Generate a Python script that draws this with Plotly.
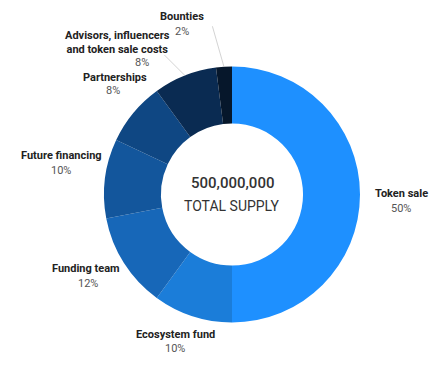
import math
import plotly.graph_objects as go

# ---- data ----
labels = ["Token sale", "Ecosystem fund", "Funding team", "Future financing",
          "Partnerships", "Advisors, influencers<br>and token sale costs", "Bounties"]
values = [50, 10, 12, 10, 8, 8, 2]
colors = ["#1E90FF", "#1B7DD9", "#1767B8", "#13569C", "#0F4783", "#0A2B52", "#06172B"]
center_line1 = "500,000,000"
center_line2 = "TOTAL SUPPLY"

# ---- layout geometry (page pixels; page body has an 8px margin) ----
OFF = 8
W, H = 447 - 2 * OFF, 365 - 2 * OFF
cx, cy, R = 232, 194.5, 128
hole = 0.555

# label anchor positions (page pixels): name block centre, percent
name_pos = [(401, 193), (175, 334), (86, 268), (61, 155), (115, 77), (117.5, 42), (182, 17)]
pct_pos = [(401, 208), (175, 348), (88, 283), (61, 170), (113, 91), (142, 62), (182, 32)]

def px(x):
    return (x - OFF) / W

def py(y):
    return 1 - (y - OFF) / H

fig = go.Figure(go.Pie(
    labels=labels, values=values, sort=False, direction="clockwise", rotation=0,
    hole=hole, textinfo="none", marker=dict(colors=colors, line=dict(width=0)),
    domain=dict(x=[px(cx - R), px(cx + R)], y=[py(cy + R), py(cy - R)]),
    showlegend=False, hoverinfo="label+percent",
))

ann = []
total = sum(values)
for i, (lab, v) in enumerate(zip(labels, values)):
    nx, ny = name_pos[i]
    tx, ty = pct_pos[i]
    ann.append(dict(x=px(nx), y=py(ny), xref="paper", yref="paper",
                    xanchor="center", yanchor="middle", borderpad=0,
                    text="<b>" + lab + "</b>", showarrow=False,
                    font=dict(family="Roboto", size=11, color="#222"), align="center"))
    ann.append(dict(x=px(tx), y=py(ty), xref="paper", yref="paper",
                    xanchor="center", yanchor="middle", borderpad=0,
                    text=f"{round(v / total * 100)}%", showarrow=False,
                    font=dict(family="Roboto", size=11, color="#555")))

# leader lines for the narrow slices (computed from slice mid-angles)
leader_offsets = {5: (-22, -22), 6: (-12, -42)}
cum = 0
for i, v in enumerate(values):
    mid = (cum + v / 2) / total * 2 * math.pi
    cum += v
    if i in leader_offsets:
        ex = cx + R * math.sin(mid)
        ey = cy - R * math.cos(mid)
        ax, ay = leader_offsets[i]
        ann.append(dict(x=px(ex), y=py(ey), xref="paper", yref="paper", text="",
                        showarrow=True, arrowhead=0, arrowwidth=0.8, arrowcolor="#c8c8c8",
                        ax=ax, ay=ay, standoff=0, startstandoff=0))

ann.append(dict(x=px(cx), y=py(183), xref="paper", yref="paper", text=center_line1,
                xanchor="center", yanchor="middle",
                showarrow=False, font=dict(family="Roboto", size=15, color="#333", weight=500)))
ann.append(dict(x=px(cx), y=py(206), xref="paper", yref="paper", text=center_line2,
                xanchor="center", yanchor="middle",
                showarrow=False, font=dict(family="Roboto", size=14, color="#333")))

fig.update_layout(width=W, height=H, margin=dict(l=0, r=0, t=0, b=0),
                  paper_bgcolor="white", plot_bgcolor="white", annotations=ann)
fig.write_html("out.html")
